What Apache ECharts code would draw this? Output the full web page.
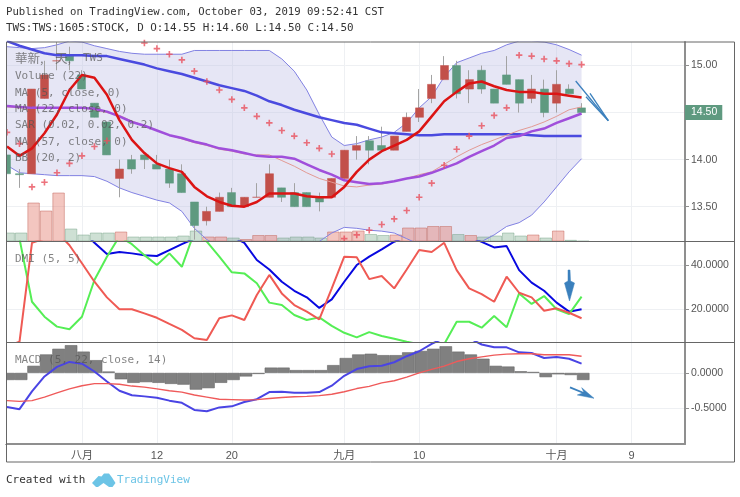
<!DOCTYPE html>
<html>
<head>
<meta charset="utf-8">
<title>1605 TWS</title>
<style>
html,body{margin:0;padding:0;background:#fff;}
#main{width:740px;height:497px;}
</style>
<script src="https://cdn.jsdelivr.net/npm/echarts@6/dist/echarts.min.js"></script>
</head>
<body>
<div id="main"></div>
<script>
// tick labels on the time axis, by trading-day index
var tickIndex=[6,12,18,27,33,44,50];
var tickLabels=['八月','12','20','九月','10','十月','9'];
var priceTicks=[13.5,14,14.5,15];
var dmiTicks=[20,40];
var macdTicks=[-0.5,0];

// daily candles
var opens=[14.05,13.85,13.85,14.65,15.05,15.1,14.9,14.6,14.4,13.8,14.0,14.05,13.95,13.9,13.85,13.55,13.35,13.45,13.65,13.5,13.6,13.6,13.7,13.65,13.65,13.6,13.6,13.8,14.1,14.2,14.15,14.1,14.3,14.45,14.65,14.85,15.0,14.75,14.95,14.75,14.9,14.85,14.65,14.75,14.6,14.75,14.55];
var closes=[13.85,13.84,14.75,14.9,15.05,15.05,14.75,14.45,14.05,13.9,13.9,14.0,13.9,13.75,13.65,13.3,13.45,13.6,13.5,13.6,13.6,13.85,13.6,13.5,13.5,13.55,13.8,14.1,14.15,14.1,14.1,14.25,14.45,14.55,14.8,15.0,14.7,14.85,14.75,14.6,14.8,14.6,14.75,14.5,14.8,14.7,14.5];
var lows=[13.85,13.7,13.85,14.65,14.95,14.95,14.75,14.45,14.05,13.6,13.85,13.9,13.9,13.7,13.65,13.15,13.3,13.45,13.5,13.5,13.6,13.6,13.55,13.5,13.5,13.45,13.6,13.8,14.0,13.95,14.1,14.1,14.3,14.4,14.6,14.85,14.65,14.6,14.7,14.6,14.8,14.5,14.6,14.45,14.5,14.7,14.5];
var highs=[14.05,13.9,14.75,15.05,15.25,15.2,14.95,14.6,14.4,14.0,14.05,14.05,14.05,14.0,13.95,13.55,13.5,13.65,13.7,13.6,13.75,13.95,13.7,13.75,13.65,13.65,13.8,14.1,14.25,14.25,14.35,14.25,14.5,14.75,14.9,15.1,15.05,14.95,15.0,14.75,15.1,14.85,14.9,14.85,14.95,14.8,14.6];
var volumes=[9,9,39,31,49,13,7,9,9,10,5,5,5,5,6,11,5,5,4,2.5,6.5,6.5,4,5,5,4,10,10,11,7.5,6.5,7,14,14,15.5,15.5,7.5,6.5,5,6,9,6,7,4,11,1.7,0.7];

// overlays in the price pane
var ma5=[14.14,14.04,14.12,14.28,14.48,14.74,14.90,14.87,14.69,14.42,14.21,14.07,13.96,13.91,13.87,13.71,13.61,13.55,13.51,13.50,13.55,13.64,13.64,13.64,13.61,13.60,13.60,13.71,13.87,14.0,14.09,14.15,14.21,14.30,14.46,14.62,14.72,14.81,14.83,14.78,14.74,14.72,14.72,14.70,14.70,14.68,14.66];
var ma22=[14.56,14.55,14.55,14.55,14.55,14.55,14.55,14.53,14.50,14.47,14.41,14.36,14.31,14.26,14.22,14.18,14.15,14.11,14.09,14.06,14.05,14.05,13.99,13.93,13.86,13.80,13.76,13.72,13.71,13.73,13.74,13.77,13.80,13.84,13.87,13.95,14.03,14.10,14.16,14.21,14.26,14.31,14.35,14.40,14.46,14.53,14.56];
var ma57=[15.26,15.21,15.17,15.13,15.11,15.11,15.11,15.10,15.10,15.07,15.04,15.01,14.97,14.94,14.91,14.87,14.83,14.79,14.76,14.73,14.68,14.62,14.58,14.53,14.49,14.45,14.42,14.39,14.37,14.33,14.29,14.28,14.27,14.26,14.26,14.27,14.27,14.27,14.27,14.27,14.27,14.27,14.26,14.25,14.25,14.25,14.25];
var maPurple=[14.57,14.56,14.55,14.55,14.55,14.55,14.55,14.54,14.51,14.46,14.40,14.36,14.31,14.26,14.23,14.19,14.16,14.12,14.10,14.07,14.04,14.03,14.03,14.01,13.95,13.89,13.84,13.78,13.76,13.74,13.75,13.77,13.80,13.82,13.86,13.91,13.96,14.03,14.09,14.15,14.23,14.25,14.30,14.33,14.39,14.44,14.49];
var sar=[14.29,14.17,13.71,13.76,13.86,13.96,14.04,14.14,14.2,null,null,15.24,15.18,15.12,15.06,14.94,14.83,14.74,14.64,14.55,14.46,14.39,14.31,14.25,14.18,14.12,14.06,13.16,13.2,13.25,13.31,13.37,13.46,13.6,13.75,13.94,14.11,14.25,14.36,14.47,14.55,15.11,15.1,15.07,15.05,15.02,15.01];
var bbUpper=[15.20,15.19,15.18,15.19,15.22,15.26,15.25,15.21,15.18,15.15,15.13,15.12,15.12,15.12,15.12,15.16,15.16,15.16,15.16,15.16,15.16,15.16,15.07,14.94,14.74,14.48,14.24,14.15,14.17,14.21,14.24,14.29,14.39,14.55,14.67,14.88,15.03,15.08,15.13,15.16,15.22,15.26,15.26,15.25,15.22,15.17,15.11];
var bbLower=[13.94,13.86,13.85,13.84,13.83,13.83,13.83,13.82,13.77,13.70,13.65,13.61,13.57,13.54,13.45,13.27,13.15,13.08,13.05,13.03,13.02,13.02,13.04,13.07,13.10,13.13,13.22,13.28,13.27,13.25,13.24,13.22,13.16,13.10,13.05,13.02,13.03,13.07,13.13,13.2,13.29,13.33,13.41,13.55,13.71,13.87,14.01];

// DMI pane
var adx=[62,66,70,72,70,64,56,50.1,45,45.9,45.3,44.4,44.1,46.8,49.5,52,54,55,53,50.1,42.3,38,32.4,28.3,25.3,20.5,24.4,32.4,40,43.8,47.1,50.6,53,56,58,58,56,53,50.5,48,48.6,37.7,32,28.3,22.9,18.8,19.9];
var plusDi=[65,52,23.3,16.5,12,10.8,16.5,33.2,43.8,53,49.5,44.5,40,45.3,39.2,55,50.6,43.8,36.7,36.2,31.7,22.9,21.8,17.3,15,16.2,12.3,9.2,7.1,9.5,7.7,6.5,5.1,4,3.5,4,14.2,14.2,11.5,16.8,11.7,27.1,22.3,25.9,19.9,17.7,25.6];
var minusDi=[3,5.1,50.1,52,55,49,40.8,32.4,25.3,19.9,19.9,18,16,13.2,10.5,6.7,5.9,15.8,17.1,15,26.4,35.5,27.1,21.8,18.8,15.3,29.4,43.8,43.5,33.6,35,29.4,38,46.8,45.9,50.1,37.7,29.4,26.8,23.3,34.7,27.4,25.3,19.2,20.3,18.3,15.8];

// MACD pane
var macdHist=[-0.10,-0.10,0.10,0.26,0.34,0.39,0.30,0.18,0.02,-0.09,-0.14,-0.13,-0.14,-0.155,-0.165,-0.235,-0.215,-0.14,-0.10,-0.05,-0.015,0.075,0.075,0.04,0.04,0.04,0.11,0.21,0.26,0.27,0.25,0.25,0.29,0.31,0.34,0.375,0.30,0.26,0.20,0.10,0.09,0.024,0.014,-0.06,-0.02,-0.03,-0.10];
var macdLine=[-0.48,-0.51,-0.26,-0.05,0.085,0.155,0.13,0.02,-0.12,-0.25,-0.315,-0.33,-0.35,-0.39,-0.42,-0.52,-0.54,-0.485,-0.47,-0.41,-0.37,-0.27,-0.265,-0.28,-0.28,-0.27,-0.18,-0.04,0.055,0.095,0.10,0.15,0.235,0.305,0.41,0.49,0.51,0.49,0.40,0.36,0.36,0.29,0.28,0.21,0.225,0.20,0.13];
var signalLine=[-0.39,-0.40,-0.39,-0.34,-0.28,-0.225,-0.18,-0.15,-0.15,-0.16,-0.185,-0.20,-0.225,-0.25,-0.27,-0.31,-0.34,-0.37,-0.375,-0.38,-0.375,-0.36,-0.345,-0.335,-0.33,-0.32,-0.30,-0.265,-0.22,-0.19,-0.14,-0.11,-0.06,0,0.05,0.095,0.16,0.20,0.225,0.25,0.265,0.27,0.27,0.255,0.255,0.255,0.235];

var RED='#c2504a',GREEN='#5f9a80';
var MONO='"DejaVu Sans Mono",monospace';
var BAR_NUDGE=0.13;//histogram-style bars sit a little right of the candle
var last=closes.length-1;

function pairs(arr,dx){
	var res=[];
	for(var i=0;i<arr.length;i++){
		res.push([i+(dx||0),arr[i]]);
	}
	return res;
}
var wickData=[],bodyData=[],volData=[];
for(var i=0;i<opens.length;i++){
	var up=closes[i]>=opens[i];
	wickData.push([i,lows[i],lows[i],lows[i],highs[i]]);
	bodyData.push([i,opens[i],closes[i],Math.min(opens[i],closes[i]),Math.max(opens[i],closes[i])]);
	volData.push({
		value:[i+BAR_NUDGE,volumes[i]],
		itemStyle:{
			color:up?'rgba(226,120,104,.42)':'rgba(110,165,130,.34)',
			borderColor:up?'rgba(190,90,80,.45)':'rgba(100,150,120,.4)',
			borderWidth:1
		}
	});
}

// lavender band between the two Bollinger lines, one polygon
function renderBand(params,api){
	if(params.dataIndex!=0)return;
	var pts=[];
	for(var i=0;i<bbUpper.length;i++){
		pts.push(api.coord([i,bbUpper[i]]));
	}
	for(var j=bbLower.length-1;j>=0;j--){
		pts.push(api.coord([j,bbLower[j]]));
	}
	return {type:'polygon',shape:{points:pts},style:{fill:'rgba(190,190,228,.38)'}};
}

function xAxis(gridIndex,withLabels){
	return {
		type:'value',gridIndex:gridIndex,
		min:-0.08,max:54.28,
		axisLine:{show:withLabels,onZero:false,lineStyle:{color:'#8f8f8f',width:2}},
		axisTick:{show:false,customValues:tickIndex},
		splitLine:{show:true,lineStyle:{color:'#eef0f3'}},
		axisLabel:{
			show:withLabels,customValues:tickIndex,margin:6,
			color:'#555',fontSize:11,fontFamily:'"Liberation Sans","Noto Sans CJK SC",sans-serif',
			formatter:function(v){
				return tickLabels[tickIndex.indexOf(Math.round(v))];
			}
		}
	};
}
function yAxis(gridIndex,min,max,ticks,digits){
	return {
		type:'value',gridIndex:gridIndex,position:'right',scale:true,
		min:min,max:max,
		axisLine:{show:true,onZero:false,lineStyle:{color:'#8f8f8f',width:2}},
		axisTick:{show:true,length:4,lineStyle:{color:'#8f8f8f'},customValues:ticks},
		splitLine:{show:true,lineStyle:{color:'#eef0f3'}},
		axisLabel:{
			customValues:ticks,margin:6,color:'#555',fontSize:10.5,
			fontFamily:'"Liberation Sans",sans-serif',
			formatter:function(v){return v.toFixed(digits);}
		}
	};
}
function line(name,arr,color,width,xi,yi,z){
	return {
		name:name,type:'line',data:pairs(arr),xAxisIndex:xi,yAxisIndex:yi,
		symbol:'none',smooth:false,z:z||4,
		lineStyle:{color:color,width:width},silent:true
	};
}
function text(str,x,y,size,fill){
	return {
		type:'text',left:x,top:y,z:50,silent:true,
		style:{text:str,fill:fill||'rgba(85,85,85,.72)',font:size+'px '+MONO}
	};
}
function arrow(points){
	return {type:'polygon',z:60,silent:true,shape:{points:points},style:{fill:'#3b80bd',stroke:'#3b80bd',lineWidth:.5}};
}
function stroke(points,w){
	return {type:'polyline',z:60,silent:true,shape:{points:points},style:{fill:'none',stroke:'#3b80bd',lineWidth:w}};
}

var ma5Series=line('MA5',ma5,'#dc1414',2.5,0,0,8);
ma5Series.markLine={
	silent:true,symbol:'none',animation:false,
	lineStyle:{width:0,color:'rgba(0,0,0,0)'},
	label:{show:true,position:'end',distance:0,formatter:function(){return closes[last].toFixed(2);},color:'#fff',backgroundColor:GREEN,
		fontSize:10.5,fontFamily:'"Liberation Sans",sans-serif',padding:[2,5,2,6]},
	data:[{yAxis:closes[last]}]
};

var option={
	animation:false,
	backgroundColor:'#fff',
	grid:[
		{left:6,top:42,width:679,height:199.5},
		{left:6,top:241.5,width:679,height:100.5},
		{left:6,top:342,width:679,height:102}
	],
	xAxis:[xAxis(0,false),xAxis(0,false),xAxis(1,false),xAxis(2,true)],
	yAxis:[
		yAxis(0,13.13,15.25,priceTicks,2),
		{type:'value',gridIndex:0,min:0,max:199.5,show:false},
		yAxis(1,5,50.7,dmiTicks,4),
		yAxis(2,-1,0.435,macdTicks,4)
	],
	series:[
		{name:'BB',type:'custom',renderItem:renderBand,data:pairs(bbUpper),xAxisIndex:0,yAxisIndex:0,clip:true,z:1,silent:true},
		{name:'Volume',type:'bar',data:volData,xAxisIndex:1,yAxisIndex:1,barWidth:12.5,z:2,silent:true},
		line('BB upper',bbUpper,'#8181e2',1,0,0,3),
		line('BB lower',bbLower,'#8181e2',1,0,0,3),
		{name:'wick',type:'candlestick',data:wickData,xAxisIndex:0,yAxisIndex:0,barWidth:1,z:5,silent:true,
			encode:{x:0,y:[1,2,3,4]},
			itemStyle:{color:'#a3a3a3',color0:'#a3a3a3',borderColor:'#a3a3a3',borderColor0:'#a3a3a3',borderWidth:1}},
		{name:'candle',type:'candlestick',data:bodyData,xAxisIndex:0,yAxisIndex:0,barWidth:8.5,z:6,silent:true,
			encode:{x:0,y:[1,2,3,4]},
			itemStyle:{color:RED,color0:GREEN,borderColor:RED,borderColor0:GREEN,borderWidth:.5}},
		line('MA57',ma57,'#4a4adf',2.5,0,0,7),
		line('MA22',ma22,'#e39a94',1,0,0,7),
		line('MA',maPurple,'#a04fdb',2.5,0,0,7),
		ma5Series,
		{name:'SAR',type:'scatter',data:pairs(sar),xAxisIndex:0,yAxisIndex:0,symbol:'path://M3 0H5V3H8V5H5V8H3V5H0V3H3Z',symbolSize:6.5,itemStyle:{color:'#e8505c'},z:9,silent:true},
		line('ADX',adx,'#0808e0',2,2,2),
		line('+DI',plusDi,'#55ee55',2,2,2),
		line('-DI',minusDi,'#ef5a54',2,2,2,5),
		{name:'MACD hist',type:'bar',data:pairs(macdHist,BAR_NUDGE),xAxisIndex:3,yAxisIndex:3,barWidth:12.5,z:2,silent:true,
			itemStyle:{color:'#808080',borderColor:'#666',borderWidth:.6}},
		line('MACD',macdLine,'#4a44e4',2,3,3),
		line('Signal',signalLine,'#ef5a5a',1.4,3,3)
	],
	graphic:[
		// marks hanging over the left edge of the panes are cut off here
		{type:'rect',z:39,silent:true,shape:{x:0,y:42,width:6,height:402},style:{fill:'#fff'}},
		text('Published on TradingView.com, October 03, 2019 09:52:41 CST',6,7,10.65,'#333'),
		text('TWS:TWS:1605:STOCK, D O:14.55 H:14.60 L:14.50 C:14.50',6,23,10.9,'#333'),
		{type:'text',left:15,top:52,z:50,silent:true,style:{text:'華新,',fill:'rgba(85,85,85,.72)',font:'12.5px "Noto Sans CJK TC"'}},
		{type:'text',left:55,top:52,z:50,silent:true,style:{text:'天,',fill:'rgba(85,85,85,.72)',font:'12.5px "Noto Sans CJK TC"'}},
		text('TWS',83,53,11),
		text('Volume (22)',15,71,11),
		text('MA (5, close, 0)',15,87.5,11),
		text('MA (22, close, 0)',15,104,11),
		text('SAR (0.02, 0.02, 0.2)',15,120,11),
		text('MA (57, close, 0)',15,136.5,11),
		text('BB (20, 2)',15,153,11),
		text('DMI (5, 5)',15,254,11),
		text('MACD (5, 22, close, 14)',15,355,11),
		text('Created with',6,475,11,'#333'),
		{type:'text',left:117,top:475,z:50,silent:true,style:{text:'TradingView',fill:'#6cc4e6',font:'11px '+MONO}},
		// frame and pane borders
		{type:'rect',z:40,silent:true,shape:{x:6.5,y:42,width:728,height:420},style:{fill:'none',stroke:'#666',lineWidth:1}},
		{type:'line',z:40,silent:true,shape:{x1:6,y1:241.5,x2:734,y2:241.5},style:{stroke:'#666',lineWidth:1}},
		{type:'line',z:40,silent:true,shape:{x1:6,y1:342.5,x2:734,y2:342.5},style:{stroke:'#666',lineWidth:1}},
		// hand drawn arrows
		stroke([[575.7,81],[608.3,120.7]],1.3),
		stroke([[586,96.7],[608.3,120.7]],1.3),
		stroke([[590,93.3],[608.3,120.7]],1.3),
		arrow([[568,270],[570,270],[570.5,281],[574.5,283],[569.5,301],[564.5,283],[568,281]]),
		stroke([[570,387.3],[585,393.5]],1.8),
		arrow([[581.7,387.7],[594,398.3],[577.3,395],[584,392.5]]),
		// logo
		{type:'polygon',z:50,silent:true,shape:{points:[[92,483],[98.5,476],[101.5,476.5],[104,473.5],[109,473.5],[112,477.5],[115.5,483],[112.5,487],[109,487],[103.5,483],[98,487],[96,487]]},style:{fill:'#6cc4e6'}}
	]
};
var myChart=echarts.init(document.getElementById('main'),null,{renderer:'canvas'});
myChart.setOption(option);
</script>
</body>
</html>
